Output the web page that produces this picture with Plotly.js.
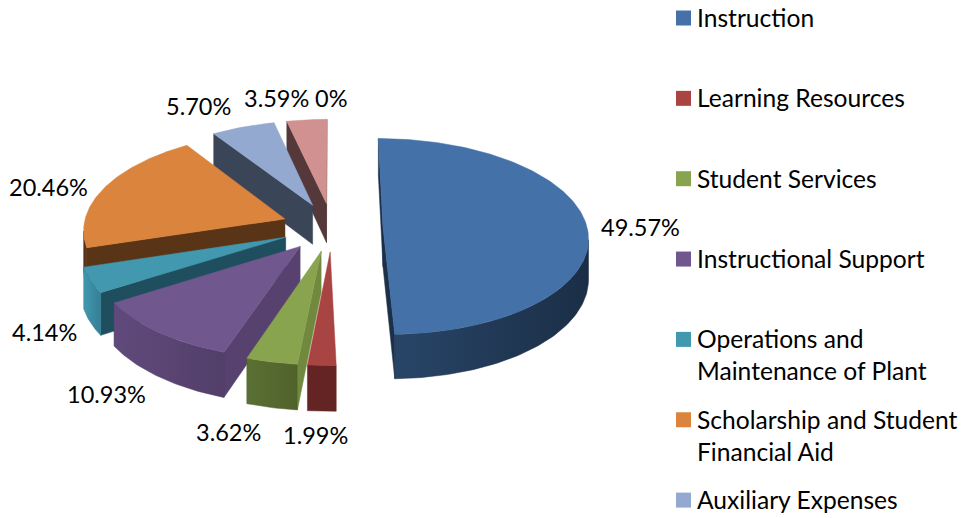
<!DOCTYPE html>
<html><head><meta charset="utf-8">
<script src="https://cdn.plot.ly/plotly-3.0.1.min.js"></script>
<style>html,body{margin:0;padding:0;background:#fff}#c{width:967px;height:518px}svg text{font-variant-ligatures:none}</style>
</head><body><div id="c"></div>
<script>
// --- data ---
const categories = ["Instruction","Learning Resources","Student Services","Instructional Support",
  "Operations and<br>Maintenance of Plant","Scholarship and Student<br>Financial Aid","Auxiliary Expenses","Other","Other (zero)"];
const values = [49.57,1.99,3.62,10.93,4.14,20.46,5.70,3.59,0];
const valueLabels = ["49.57%","1.99%","3.62%","10.93%","4.14%","20.46%","5.70%","3.59%","0%"];
const legendCount = 7;
// --- styles ---
const topColors  = ["#4471a7","#a84543","#89a44e","#70578e","#4198af","#da843d","#93a9cf","#d09190","#d09190"];
const faceColors = ["#1c3049","#622422","#71893f","#57416e","#1f4e5f","#5a3416","#3b4558","#54383a","#54383a"];
const wallLeft   = ["#284568","#632423","#5b7034","#604a7c","#4198af","#5a3416","#3b4558","#54383a","#54383a"];
const wallRight  = ["#1b2e46","#632423","#50622b","#523e69","#357f95","#5a3416","#3b4558","#54383a","#54383a"];
const labelX = [640,315,228,106,44,48,198,276,331];
const labelY = [227,435,432,394,332,187,106,98,98];
// --- projection of the tilted pie onto the axes ---
const cx=332, cy=227, A_RIGHT=204, A_LEFT=201.5, B=97, K=0.10, D=40, EXPLODE=0.25;
function proj(u,v,low){const w=1+K*v;return [cx+(u<0?A_LEFT:A_RIGHT)*u/w, cy-B*v/w+(low?D/w:0)];}
const total=values.reduce((a,b)=>a+b,0);
const rad=d=>d*Math.PI/180;
const traces=[], slices=[];
let cum=0;
values.forEach((val,i)=>{
  const t0=cum/total*360, t1=(cum+val)/total*360; cum+=val;
  if(val>0) slices.push({i,t0,t1,mid:(t0+t1)/2});
});
function poly(pts,color,extra){
  traces.push(Object.assign({type:"scatter",mode:"lines",x:pts.map(p=>p[0]).concat(pts[0][0]),y:pts.map(p=>p[1]).concat(pts[0][1]),
    fill:"toself",fillcolor:color,line:{color:color,width:0.5},hoverinfo:"skip",showlegend:false},extra||{}));
}
const cross=(a,b)=>a[0]*b[1]-a[1]*b[0];
const sub=(a,b)=>[a[0]-b[0],a[1]-b[1]];
slices.slice().sort((a,b)=>Math.cos(rad(b.mid))-Math.cos(rad(a.mid))).forEach(s=>{
  const ou=EXPLODE*Math.sin(rad(s.mid)), ov=EXPLODE*Math.cos(rad(s.mid));
  const at=(th,r,low)=>proj(ou+r*Math.sin(rad(th)),ov+r*Math.cos(rad(th)),low);
  const P=at(0,0,false), Pl=at(0,0,true), C=at(s.mid,0.5,false);
  const visible=(a,b)=>{const d=sub(b,a);return Math.sign(cross(d,sub(C,a)))!==Math.sign(cross(d,[0,1]));};
  // radial cut faces
  [s.t0,s.t1].forEach(th=>{
    const Q=at(th,1,false);
    if(visible(P,Q)) poly([P,Q,at(th,1,true),Pl],faceColors[s.i]);
  });
  // outer wall, only where it faces the viewer
  const n=Math.max(4,Math.ceil((s.t1-s.t0)));
  const arc=[];
  for(let k=0;k<=n;k++) arc.push(s.t0+(s.t1-s.t0)*k/n);
  const vis=arc.filter(th=>{const a=at(th-0.5,1,false),b=at(th+0.5,1,false);return visible(a,b);});
  if(vis.length>1){
    const pts=vis.map(th=>at(th,1,false)).concat(vis.slice().reverse().map(th=>at(th,1,true)));
    poly(pts,wallRight[s.i],{fillgradient:{type:"horizontal",colorscale:[[0,wallLeft[s.i]],[1,wallRight[s.i]]]}});
  }
  // top face
  const top=[P]; for(const th of arc) top.push(at(th,1,false));
  poly(top,topColors[s.i]);
});
// legend keys
const legendY=i=>18+i*80.35;
const keyIdx=categories.slice(0,legendCount).map((_,i)=>i);
traces.push({type:"scatter",mode:"markers",x:keyIdx.map(()=>683.5),y:keyIdx.map(legendY),
  marker:{symbol:"square",size:15,color:keyIdx.map(i=>topColors[i])},text:keyIdx.map(i=>categories[i]),hoverinfo:"text",showlegend:false});
const font={family:"Lato, Carlito, sans-serif",size:23.5,color:"#000"};
const legendFont={family:"Lato, Carlito, sans-serif",size:24.6,color:"#000"};
const annotations=[];
valueLabels.forEach((t,i)=>annotations.push({x:labelX[i],y:labelY[i],xref:"x",yref:"y",text:t,showarrow:false,font,xanchor:"center",yanchor:"middle"}));
keyIdx.forEach(i=>annotations.push({x:696,y:legendY(i)-16,xref:"x",yref:"y",text:categories[i],showarrow:false,font:legendFont,xanchor:"left",yanchor:"top",align:"left",borderpad:0}));
Plotly.newPlot("c",traces,{
  width:967,height:518,margin:{l:0,r:0,t:0,b:0},paper_bgcolor:"#fff",plot_bgcolor:"#fff",showlegend:false,
  xaxis:{range:[0,967],visible:false,fixedrange:true},
  yaxis:{range:[518,0],visible:false,fixedrange:true},
  annotations
},{displayModeBar:false});
</script></body></html>
